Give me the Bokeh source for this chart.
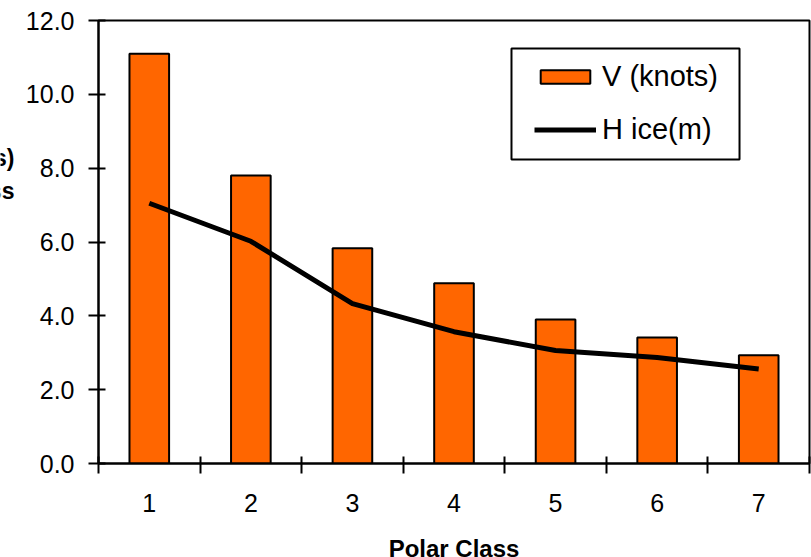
from bokeh.plotting import figure
from bokeh.layouts import row, column
from bokeh.models import (FixedTicker, PrintfTickFormatter, Range1d, Legend, LegendItem,
                          BoxAnnotation)
from bokeh.core.properties import value
from bokeh.embed import file_html
from bokeh.resources import INLINE

# data
classes = [1, 2, 3, 4, 5, 6, 7]
class_labels = ["1", "2", "3", "4", "5", "6", "7"]
v_knots = [11.1, 7.8, 5.83, 4.88, 3.9, 3.41, 2.93]
h_ice = [7.05, 6.02, 4.33, 3.57, 3.06, 2.87, 2.56]
y_ticks = [0, 2, 4, 6, 8, 10, 12]
y_title_lines = ["Speed (knots)", "Ice thickness"]
x_title = "Polar Class"

FONT = "Liberation Sans"
X0, X1 = 0.5, 7.5


def strip(w, h, xr, ml=0, mr=0):
    s = figure(width=w, height=h, output_backend="svg", toolbar_location=None,
               x_range=xr, y_range=Range1d(h, 0),
               x_axis_location=None, y_axis_location=None,
               min_border_left=ml, min_border_right=mr, min_border_top=0, min_border_bottom=0)
    s.grid.visible = False
    s.outline_line_color = None
    return s


# main chart
p = figure(width=791, height=523, output_backend="svg", toolbar_location=None,
           x_range=Range1d(X0, X1), y_range=Range1d(0, 12),
           min_border_left=78, min_border_right=2, min_border_top=20, min_border_bottom=60)
p.grid.visible = False
p.outline_line_color = "black"
p.outline_line_width = 2

bars = p.vbar(x=classes, top=v_knots, width=0.39, fill_color="#FF6600",
              line_color="black", line_width=2)
line = p.line(x=classes, y=h_ice, line_color="black", line_width=5, line_join="round")

# x axis
xa = p.xaxis[0]
boundaries = [c - 0.5 for c in classes] + [classes[-1] + 0.5]
xa.ticker = FixedTicker(ticks=classes, minor_ticks=boundaries)
xa.major_label_overrides = {c: l for c, l in zip(classes, class_labels)}
xa.major_tick_in = 0
xa.major_tick_out = 0
xa.minor_tick_in = 7
xa.minor_tick_out = 10
xa.minor_tick_line_color = "black"
xa.minor_tick_line_width = 2
xa.axis_line_width = 2
xa.major_label_standoff = 20
xa.major_label_text_font = FONT
xa.major_label_text_font_size = "25px"
xa.major_label_text_color = "black"

# y axis
ya = p.yaxis[0]
ya.ticker = FixedTicker(ticks=y_ticks, minor_ticks=[])
ya.formatter = PrintfTickFormatter(format="%.1f")
ya.major_tick_in = 7
ya.major_tick_out = 10
ya.major_tick_line_width = 2
ya.axis_line_width = 2
ya.major_label_standoff = 14
ya.major_label_text_font = FONT
ya.major_label_text_font_size = "25px"
ya.major_label_text_color = "black"

# legend
box = BoxAnnotation(left=4.566, right=6.811, top=11.24, bottom=8.234,
                    fill_alpha=1, fill_color="white", line_color="black", line_alpha=1,
                    line_width=2, level="underlay")
p.add_layout(box)
legend = Legend(items=[LegendItem(label="V (knots)", renderers=[bars]),
                       LegendItem(label="H ice(m)", renderers=[line])],
                location=(423, 304), padding=13, spacing=20, glyph_width=62,
                glyph_height=17, label_standoff=6, border_line_alpha=0,
                background_fill_alpha=0, label_text_font=FONT,
                label_text_font_size="29px", label_text_color="black")
p.add_layout(legend)

# left strip: y title, cut off at the page edge as in the original
left = strip(20, 557, Range1d(0, 20))
left.text(x=[14, 14], y=[157, 190], text=y_title_lines, text_align="right",
          text_baseline="middle", text_font=value(FONT), text_font_style="bold",
          text_font_size="23px", text_color="black")

# bottom strip: x title, centred under the plot frame (same x geometry as the chart)
bottom = strip(791, 34, Range1d(X0, X1), ml=78, mr=2)
bottom.text(x=[(X0 + X1) / 2], y=[25], text=[x_title], text_align="center",
            text_baseline="middle", text_font=value(FONT), text_font_style="bold",
            text_font_size="24px", text_color="black")

layout = row(left, column(p, bottom, spacing=0), spacing=0)

open("out.html", "w").write(file_html(layout, INLINE))
